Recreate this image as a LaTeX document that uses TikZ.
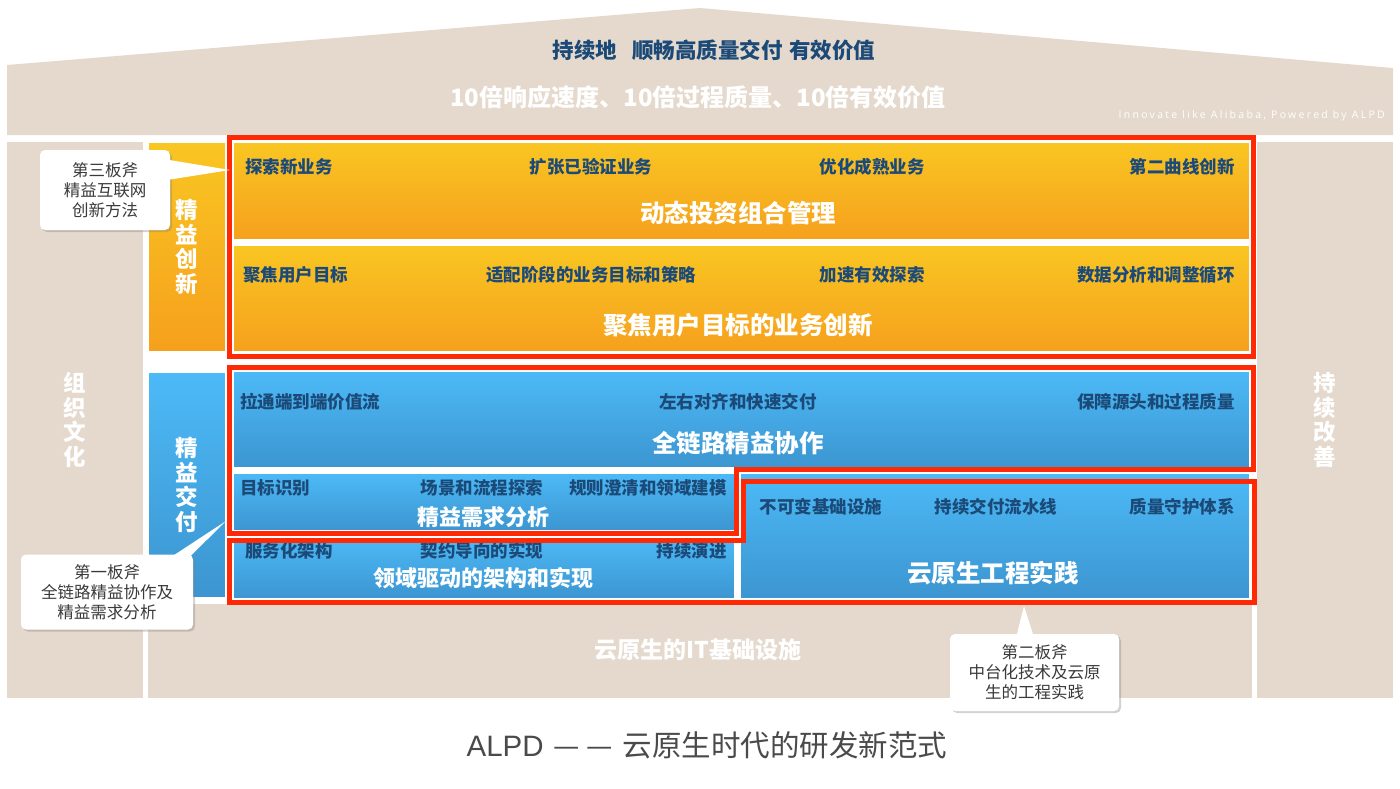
\documentclass[tikz,border=0pt]{standalone}
\usepackage{fontspec}
\setmainfont{Noto Sans CJK SC}
\newfontfamily\tagfont{Open Sans}[LetterSpace=22]
\newfontfamily\capfont{Liberation Sans}
\usetikzlibrary{positioning, calc, shadows}

\definecolor{beige}{HTML}{E4D9CC}
\definecolor{navy}{HTML}{1C4A78}
\definecolor{frame}{HTML}{FF2A05}
\definecolor{orgtop}{HTML}{F9C622}
\definecolor{orgbot}{HTML}{F6A01D}
\definecolor{blutop}{HTML}{4CBAF7}
\definecolor{blubot}{HTML}{3C95D0}
\definecolor{notegray}{HTML}{3A3A3A}
\definecolor{capgray}{HTML}{4A4A4A}

\begin{document}
\begin{tikzpicture}[x=1pt, y=-1pt,
    block/.style={rectangle, draw=white, line width=1.5pt, inner sep=0pt},
    orangebox/.style={block, top color=orgtop, bottom color=orgbot},
    bluebox/.style={block, top color=blutop, bottom color=blubot},
    pillar/.style={rectangle, fill=beige, inner sep=0pt},
    item/.style={font=\fontsize{17.5}{20}\selectfont\bfseries, text=navy, inner sep=0pt},
    btitle/.style={font=\fontsize{24.5}{28}\selectfont\bfseries, text=white, inner sep=0pt},
    stitle/.style={font=\fontsize{22}{26}\selectfont\bfseries, text=white, inner sep=0pt},
    vtext/.style={font=\fontsize{22.5}{24.5}\selectfont\bfseries, text=white, align=center, inner sep=0pt},
    redframe/.style={draw=frame, line width=5pt, line join=miter},
    note/.style={rectangle, rounded corners=5pt, fill=white, align=center,
                 text=notegray, font=\fontsize{16.5}{20}\selectfont,
                 drop shadow={opacity=0.35, shadow xshift=2pt, shadow yshift=-2pt}},
]

\useasboundingbox (0,0) rectangle (1400,788);
\fill[white] (0,0) rectangle (1400,788);

% roof
\fill[beige] (7,65) -- (700,8) -- (1393,68) -- (1393,135) -- (7,135) -- cycle;
\node[font=\fontsize{21.5}{24}\selectfont\bfseries, text=navy] (goal) at (714,50)
     {持续地\hspace{0.7em}顺畅高质量交付\hspace{0.3em}有效价值};
\node[font=\fontsize{24}{27}\selectfont\bfseries, text=white] (tenx) at (698,97)
     {10倍响应速度、10倍过程质量、10倍有效价值};
\node[font=\tagfont\fontsize{10.5}{12}\selectfont, text=white, anchor=east, inner sep=0pt]
     (tag) at (1385,116) {Innovate like Alibaba, Powered by ALPD};

% pillars and base
\node[pillar, minimum width=136, minimum height=556] (culture) at (75,420) {};
\node[pillar, minimum width=136, minimum height=556] (improve) at (1325,420) {};
\node[pillar, minimum width=1104, minimum height=94] (infra) at (700,651) {};
\node[vtext] at (culture) {组\\织\\文\\化};
\node[vtext] at (improve) {持\\续\\改\\善};
\node[font=\fontsize{23}{26}\selectfont\bfseries, text=white] at (698,650) {云原生的IT基础设施};

% side columns
\node[orangebox, minimum width=78, minimum height=210] (innov) at (187,247) {};
\node[bluebox, minimum width=78, minimum height=226] (deliv) at (187,485) {};
\node[vtext] at (innov) {精\\益\\创\\新};
\node[vtext] at (deliv) {精\\益\\交\\付};

% innovation blocks
\node[orangebox, minimum width=1017, minimum height=98] (pfm) at (741.5,191) {};
\node[orangebox, minimum width=1017, minimum height=107] (ubiz) at (741.5,298.5) {};

\node[item, anchor=west] at (245,167) {探索新业务};
\node[item] at (591,167) {扩张已验证业务};
\node[item] at (872,167) {优化成熟业务};
\node[item, anchor=east] at (1235,167) {第二曲线创新};
\node[btitle] at (738,213) {动态投资组合管理};

\node[item, anchor=west] at (243,275) {聚焦用户目标};
\node[item] at (591,275) {适配阶段的业务目标和策略};
\node[item] at (872,275) {加速有效探索};
\node[item, anchor=east] at (1235,275) {数据分析和调整循环};
\node[btitle] at (738,325) {聚焦用户目标的业务创新};

% delivery blocks
\node[bluebox, minimum width=1017, minimum height=97] (chain) at (741.5,419.5) {};
\node[bluebox, minimum width=502, minimum height=58] (req) at (484,502) {};
\node[bluebox, minimum width=502, minimum height=62] (ddd) at (484,568) {};
\node[bluebox, minimum width=510, minimum height=126] (cloud) at (995,536) {};

\node[item, anchor=west] at (240,402) {拉通端到端价值流};
\node[item] at (738,402) {左右对齐和快速交付};
\node[item, anchor=east] at (1235,402) {保障源头和过程质量};
\node[btitle] at (738,443) {全链路精益协作};

\node[item, anchor=west] at (240,488) {目标识别};
\node[item] at (482,488) {场景和流程探索};
\node[item, anchor=east] at (727,488) {规则澄清和领域建模};
\node[stitle] at (483,517) {精益需求分析};

\node[item, anchor=west] at (245,551) {服务化架构};
\node[item] at (482,551) {契约导向的实现};
\node[item, anchor=east] at (727,551) {持续演进};
\node[stitle] at (483,578) {领域驱动的架构和实现};

\node[item] at (821,507) {不可变基础设施};
\node[item] at (996,507) {持续交付流水线};
\node[item, anchor=east] at (1235,507) {质量守护体系};
\node[btitle] at (993,573) {云原生工程实践};

% red frames (the three axes)
\draw[redframe] (229,137) rectangle (1253,356);
\draw[redframe] (229,367) -- (1253,367) -- (1253,469) -- (736,469) -- (736,533) -- (229,533) -- cycle;
\draw[redframe] (229,540) -- (743,540) -- (743,481) -- (1254,481) -- (1254,602) -- (229,602) -- cycle;

% callouts
\node[note, minimum width=130, minimum height=80] (axe3) at (105,190)
     {第三板斧\\精益互联网\\创新方法};
\coordinate (tip3) at (230,170);
\fill[white] ($(axe3.north east)+(-2,10)$) -- (tip3) -- ($(axe3.north east)+(-2,30)$) -- cycle;

\node[note, minimum width=172, minimum height=75] (axe1) at (107,592)
     {第一板斧\\全链路精益协作及\\精益需求分析};
\coordinate (tip1) at (226,521);
\fill[white] ($(axe1.north east)+(-21,2)$) -- (tip1) -- ($(axe1.north east)+(-3,2)$) -- cycle;

\node[note, minimum width=169, minimum height=77] (axe2) at (1034.5,672.5)
     {第二板斧\\中台化技术及云原\\生的工程实践};
\coordinate (tip2) at (1024,606);
\fill[white] ($(axe2.north)+(-18,2)$) -- (tip2) -- ($(axe2.north)+(-1,2)$) -- cycle;

% caption
\node[font=\fontsize{29.5}{32}\selectfont, text=capgray] (caption) at (707,745)
     {{\capfont ALPD}\hspace{0.35em}—\hspace{0.2em}—\hspace{0.35em}云原生时代的研发新范式};

\end{tikzpicture}
\end{document}
